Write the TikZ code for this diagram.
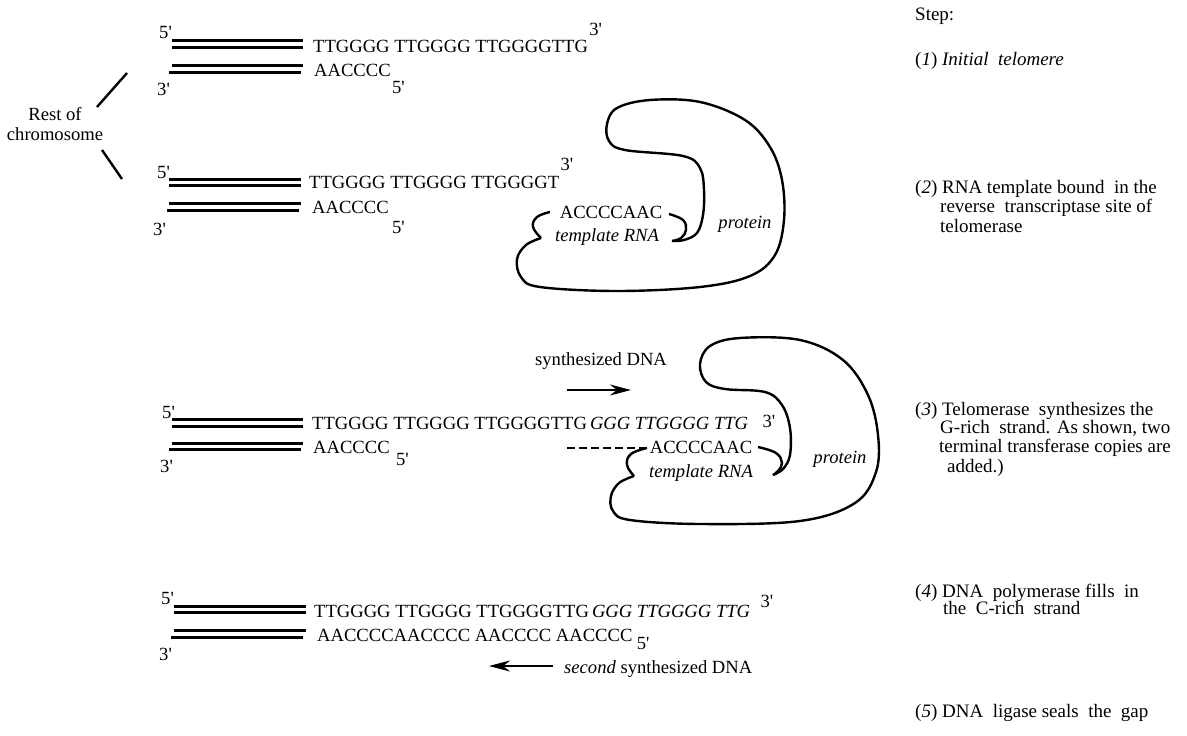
\documentclass[tikz,border=0pt]{standalone}
\usepackage{fontspec}
\setmainfont{Liberation Serif}
\usetikzlibrary{arrows.meta}
\newcommand{\fivep}{5\textquotesingle}
\newcommand{\threep}{3\textquotesingle}

\begin{document}
\begin{tikzpicture}[x=1pt,y=-1pt,
  every node/.style={inner sep=0pt,font=\fontsize{18.6}{19.5}\selectfont},
  seq/.style={anchor=base west},
  stepline/.style={anchor=base west,font=\fontsize{19}{20}\selectfont},
  strand/.style={line width=3pt},
  protein/.style={line width=2.4pt,line join=round},
  arm/.style={line width=2.4pt},
  synth/.style={line width=2pt,-{Stealth[length=21pt,width=11pt]}}]
  \useasboundingbox (0,0) rectangle (1187,736);

  % Step 1: initial telomere
  \begin{scope}[shift={(0,40.7)}]
    \draw[strand] (172,0) -- (303,0);
    \draw[strand] (172,6.6) -- (303,6.6);
    \draw[strand] (172,24.6) -- (303,24.6);
    \draw[strand] (169,31.3) -- (301,31.3);
    \node[seq] (fiveL1) at (159,-2.7) {\fivep};
    \node[seq] (threeL1) at (157,54.3) {\threep};
    \node[seq] (g1) at (313,11.3) {TTGGGG TTGGGG TTGGGGTTG};
    \node[seq] (c1) at (314,35.3) {AACCCC};
    \node[seq] (threeR1) at ([xshift=1pt,yshift=17pt]g1.base east) {\threep};
    \node[seq] (fiveR1) at ([xshift=1pt,yshift=-17pt]c1.base east) {\fivep};
  \end{scope}

  % rest of chromosome
  \node[align=center] (rest) at (55,124) {Rest of\\chromosome};
  \coordinate (arm1a) at (97,107);
  \coordinate (arm1b) at (127,73);
  \coordinate (arm2a) at (102,150);
  \coordinate (arm2b) at (122,179);
  \draw[arm] (arm1a) -- (arm1b);
  \draw[arm] (arm2a) -- (arm2b);

  % Step 2: template bound in telomerase
  \begin{scope}[shift={(0,179.3)}]
    \draw[strand] (169,0) -- (301,0);
    \draw[strand] (169,6) -- (301,6);
    \draw[strand] (169,24) -- (301,24);
    \draw[strand] (167,30.7) -- (299,30.7);
    \node[seq] (fiveL2) at (157,-1.3) {\fivep};
    \node[seq] (threeL2) at (153,55.7) {\threep};
    \node[seq] (g2) at (309,9.5) {TTGGGG TTGGGG TTGGGGT};
    \node[seq] (c2) at (312,34) {AACCCC};
    \node[seq] (threeR2) at ([xshift=1pt,yshift=18pt]g2.base east) {\threep};
    \node[seq] (fiveR2) at ([xshift=3pt,yshift=-20pt]c2.base east) {\fivep};
  \end{scope}
  \node[anchor=base] (tmpl2) at (611,218) {ACCCCAAC};
  \node[anchor=base] (rna2) at (607,241) {\itshape template RNA};
  \node[anchor=base] (prot2) at (745,228) {\itshape protein};
  \draw[protein] plot[smooth,tension=0.7] coordinates
    {(550,212) (537,217) (533,227) (541,238)};
  \draw[protein] plot[smooth,tension=0.6] coordinates
    {(541,238) (526,245) (517,259) (521,277) (540,287) (617,291) (700,287)
     (750,276) (775,255) (784,220) (782,180) (770,147) (745,120) (700,102)
     (650,100) (617,108) (607,124) (609,141) (625,150) (683,156) (700,168)
     (704,190) (703,215) (697,233) (684,240) (672,241)};
  \draw[protein] plot[smooth,tension=0.7] coordinates
    {(669,214) (683,220) (686,230) (681,238) (672,241)};

  % Step 3: telomerase extends the G-rich strand
  \begin{scope}[shift={(0,419.3)}]
    \draw[strand] (172,0) -- (303,0);
    \draw[strand] (172,6.7) -- (303,6.7);
    \draw[strand] (172,23.7) -- (303,23.7);
    \draw[strand] (169,29.7) -- (301,29.7);
    \node[seq] (fiveL3) at (162,-1.3) {\fivep};
    \node[seq] (threeL3) at (160,52.7) {\threep};
    \node[seq] (g3) at (312,10) {TTGGGG TTGGGG TTGGGGTTG\kern3pt\textit{GGG TTGGGG TTG}};
    \node[seq] (c3) at (313,34) {AACCCC};
    \node[seq] (threeR3) at ([xshift=14pt,yshift=2pt]g3.base east) {\threep};
    \node[seq] (fiveR3) at ([xshift=6pt,yshift=-12pt]c3.base east) {\fivep};
  \end{scope}
  \node[seq] (syn3) at (535,365) {synthesized DNA};
  \coordinate (syn3a) at (567,390);
  \coordinate (syn3b) at (631,390);
  \draw[synth] (syn3a) -- (syn3b);
  \node[anchor=base] (tmpl3) at (701,453) {ACCCCAAC};
  \node[anchor=base] (rna3) at (701,477) {\itshape template RNA};
  \node[anchor=base] (prot3) at (840,463) {\itshape protein};
  \coordinate (gap3) at (567,448);
  \coordinate (brace3) at (647,448);
  \draw[line width=2.4pt,dash pattern=on 8pt off 4pt] (gap3) -- (brace3);
  \draw[protein] plot[smooth,tension=0.7] coordinates
    {(brace3) (631,454) (627,465) (634,476)};
  \draw[protein] plot[smooth,tension=0.6] coordinates
    {(634,476) (619,483) (611,496) (613,511) (630,520) (700,524) (800,521)
     (855,503) (876,472) (878,435) (868,395) (843,360) (800,340) (740,338)
     (710,346) (700,364) (706,382) (725,389) (765,392) (782,405) (790,428)
     (790,455) (783,469) (773,475)};
  \draw[protein] plot[smooth,tension=0.7] coordinates
    {(758,447) (776,453) (782,463) (778,471) (773,475)};

  % Step 4: polymerase fills the C-rich strand
  \begin{scope}[shift={(0,606)}]
    \draw[strand] (174,0) -- (306,0);
    \draw[strand] (174,6.7) -- (306,6.7);
    \draw[strand] (174,24.3) -- (306,24.3);
    \draw[strand] (171,31) -- (303,31);
    \node[seq] (fiveL4) at (161,-2) {\fivep};
    \node[seq] (threeL4) at (159,54) {\threep};
    \node[seq] (g4) at (314,11.5) {TTGGGG TTGGGG TTGGGGTTG\kern3pt\textit{GGG TTGGGG TTG}};
    \node[seq] (c4) at (317,35.5) {AACCCCAACCCC AACCCC AACCCC};
    \node[seq] (threeR4) at ([xshift=10pt,yshift=10pt]g4.base east) {\threep};
    \node[seq] (fiveR4) at ([xshift=4pt,yshift=-8pt]c4.base east) {\fivep};
  \end{scope}
  \coordinate (syn4a) at (553,666);
  \coordinate (syn4b) at (489,666);
  \draw[synth] (syn4a) -- (syn4b);
  \node[seq] (syn4) at (564,673) {\textit{second} synthesized DNA};

  % step descriptions
  \node[stepline] (steps) at (915,20) {Step:};
  \node[stepline] (s1) at (915,65) {(\textit{1}) \textit{Initial~ telomere}};
  \node[stepline] (s2a) at (915,193) {(\textit{2}) RNA template bound~ in the};
  \node[stepline] (s2b) at (940,212) {reverse~ transcriptase site of};
  \node[stepline] (s2c) at (940,232) {telomerase};
  \node[stepline] (s3a) at (915,415) {(\textit{3}) Telomerase~ synthesizes the};
  \node[stepline] (s3b) at (940,433) {G-rich~ strand. As shown, two};
  \node[stepline] (s3c) at (939,452) {terminal transferase copies are};
  \node[stepline] (s3d) at (947,472) {added.)};
  \node[stepline] (s4a) at (915,597) {(\textit{4}) DNA~ polymerase fills~ in};
  \node[stepline] (s4b) at (943,614) {the~ C-rich~ strand};
  \node[stepline] (s5) at (915,717) {(\textit{5}) DNA~ ligase seals~ the~ gap};
\end{tikzpicture}
\end{document}
